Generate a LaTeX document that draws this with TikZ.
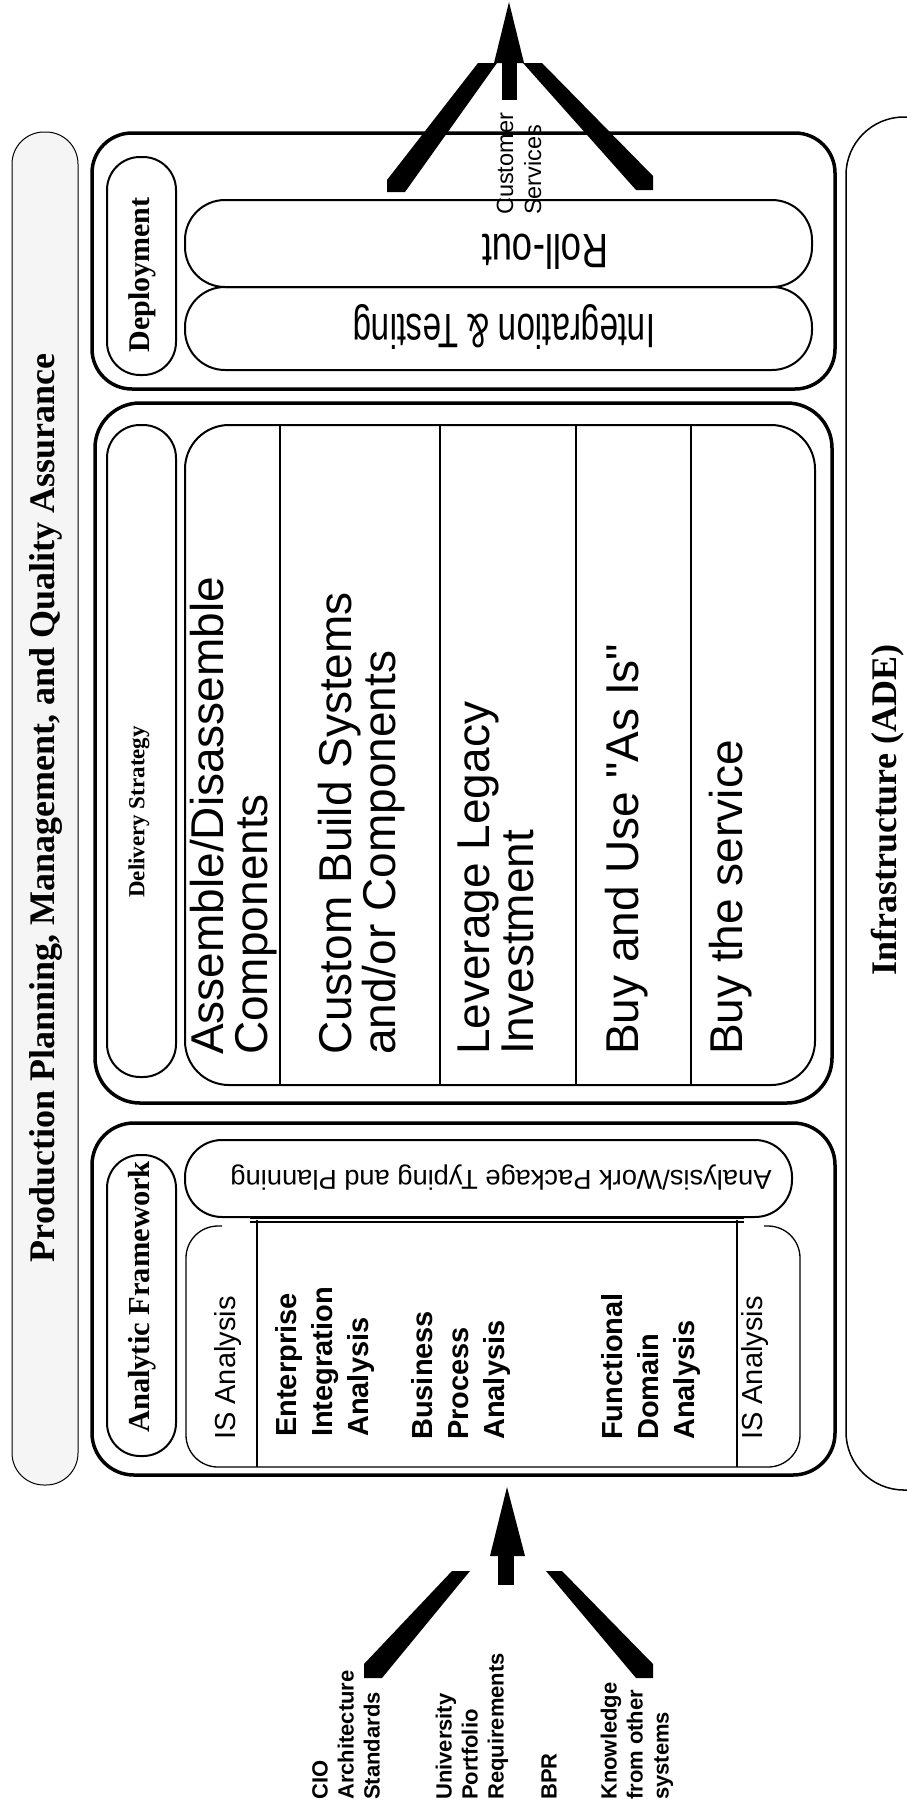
\documentclass[tikz,border=0pt]{standalone}
\usepackage{graphicx}
\usepackage{fontspec}
\setmainfont{Liberation Serif}
\setsansfont{Liberation Sans}
% a sans family without TeX ligature mapping, so " stays a straight quote
\newfontfamily\plainsans{Liberation Sans}
\newcommand\fsz[2]{\fontsize{#1}{#2}\selectfont}

\begin{document}
\begin{tikzpicture}[x=1pt,y=1pt,
  heavy/.style={draw, line width=3.5pt},
  band/.style={draw, line width=2pt},
  rule/.style={draw, line width=1.3pt},
  upc/.style={rotate=90, inner sep=0pt},
  upl/.style={rotate=90, inner sep=0pt, anchor=west, align=left},
  flip/.style={rotate=180, inner sep=0pt},
  banner/.style={font=\bfseries\fsz{36}{40}},
  label/.style={font=\bfseries\fsz{30}{34}},
  option/.style={font=\sffamily\fsz{46}{44}},
  study/.style={font=\sffamily\bfseries\fsz{29}{36}},
  isa/.style={font=\sffamily\fsz{29}{36}},
  source/.style={font=\sffamily\bfseries\fsz{22}{26}},
  outlet/.style={font=\sffamily\fsz{23.5}{28}}
]
\path[use as bounding box] (0,0) rectangle (907,-1804);
\clip (0,0) rectangle (907,-1804);

% side bands
\draw[line width=1pt, fill=black!4, rounded corners=32] (12,-132) rectangle (78,-1485);
\draw[line width=1.5pt, rounded corners=58] (846,-117) rectangle (968,-1490);
\node[upc, banner] (ppqa) at (46,-808) {Production Planning, Management, and Quality Assurance};
\node[upc, banner] (infra) at (888,-810) {Infrastructure (ADE)};

% Deployment
\draw[heavy, rounded corners=40] (92,-133) rectangle (835,-389);
\draw[band, rounded corners=33] (107,-157) rectangle (176,-375);
\draw[band, rounded corners=40] (185,-200) rectangle (812,-287);
\draw[band, rounded corners=40] (185,-287) rectangle (812,-370);
\node[upc, label] (dep) at (142,-275) {Deployment};
\node[flip] (roll) at (545,-252) {\resizebox{126pt}{35pt}{\sffamily Roll-out}};
\node[flip] (integ) at (504,-327) {\resizebox{302pt}{35pt}{\sffamily Integration \& Testing}};

% Delivery strategy
\draw[heavy, rounded corners=45] (95,-403) rectangle (832,-1103);
\draw[band, rounded corners=33] (107,-425) rectangle (176,-1077);
\draw[band, rounded corners=44] (185,-425) rectangle (815,-1085);
\foreach \x in {280,440,576,691} \draw[rule] (\x,-425) -- (\x,-1085);
\node[upl, font=\bfseries\fsz{23}{27}] (del) at (139,-898) {Delivery Strategy};
\node[upl, option] (opt1) at (234,-1055) {Assemble/Disassemble\\Components};
\node[upl, option] (opt2) at (362,-1055) {Custom Build Systems\\and/or Components};
\node[upl, option] (opt3) at (496,-1055) {Leverage Legacy\\Investment};
\node[upl, font=\plainsans\fsz{46}{44}] (opt4) at (627,-1055) {Buy and Use "As Is"};
\node[upl, option] (opt5) at (731,-1055) {Buy the service};

% Analytic framework
\draw[heavy, rounded corners=42] (92,-1123) rectangle (835,-1475);
\draw[band, rounded corners=33] (107,-1155) rectangle (176,-1456);
\draw[band, rounded corners=37] (185,-1140) rectangle (792,-1217);
\draw[rule, rounded corners=32] (222,-1226) -- (186,-1226) -- (186,-1467)
  -- (800,-1467) -- (800,-1226) -- (764,-1226);
\draw[rule] (250,-1218) -- (744,-1218);
\draw[rule] (250,-1222) -- (744,-1222);
\draw[rule] (257,-1220) -- (257,-1467);
\draw[rule] (737,-1220) -- (737,-1467);
\node[upc, label, font=\bfseries\fsz{30.5}{34}] (ana) at (142,-1297) {Analytic Framework};
\node[flip] (pkg) at (501,-1178) {\resizebox{541pt}{!}{\sffamily\fsz{27}{30}Analysis/Work Package Typing and Planning}};
\node[upl, isa] (isl) at (228,-1440) {IS Analysis};
\node[upl, study] (eia) at (325,-1437) {Enterprise\\Integration\\Analysis};
\node[upl, study] (bpa) at (461,-1440) {Business\\Process\\Analysis};
\node[upl, study] (fda) at (651,-1440) {Functional\\Domain\\Analysis};
\node[upl, isa] (isr) at (755,-1440) {IS Analysis};

% outgoing arrow: customer services
\fill (509,-2) -- (524,-63) -- (494,-63) -- cycle;
\fill (502,-63) rectangle (517,-100);
\fill (478,-63) -- (497,-63) -- (405,-192) -- (387,-192) -- (387,-180) -- cycle;
\fill (523,-63) -- (542,-63) -- (653,-176) -- (653,-190) -- (636,-190) -- cycle;
\node[upl, outlet] (cust) at (519,-215) {Customer\\Services};

% incoming arrow: sources
\fill (507,-1487) -- (525,-1556) -- (490,-1556) -- cycle;
\fill (498,-1556) rectangle (514,-1585);
\fill (452,-1571) -- (470,-1571) -- (382,-1678) -- (364,-1678) -- (364,-1664) -- cycle;
\fill (546,-1571) -- (562,-1571) -- (653,-1664) -- (653,-1678) -- (636,-1678) -- cycle;
\node[upl, source] (cio) at (346,-1800) {CIO\\Architecture\\Standards};
\node[upl, source] (univ) at (472,-1800) {University\\Portfolio\\Requirements};
\node[upl, source] (bpr) at (549,-1800) {BPR};
\node[upl, source] (know) at (637,-1800) {Knowledge\\from other\\systems};
\end{tikzpicture}
\end{document}
